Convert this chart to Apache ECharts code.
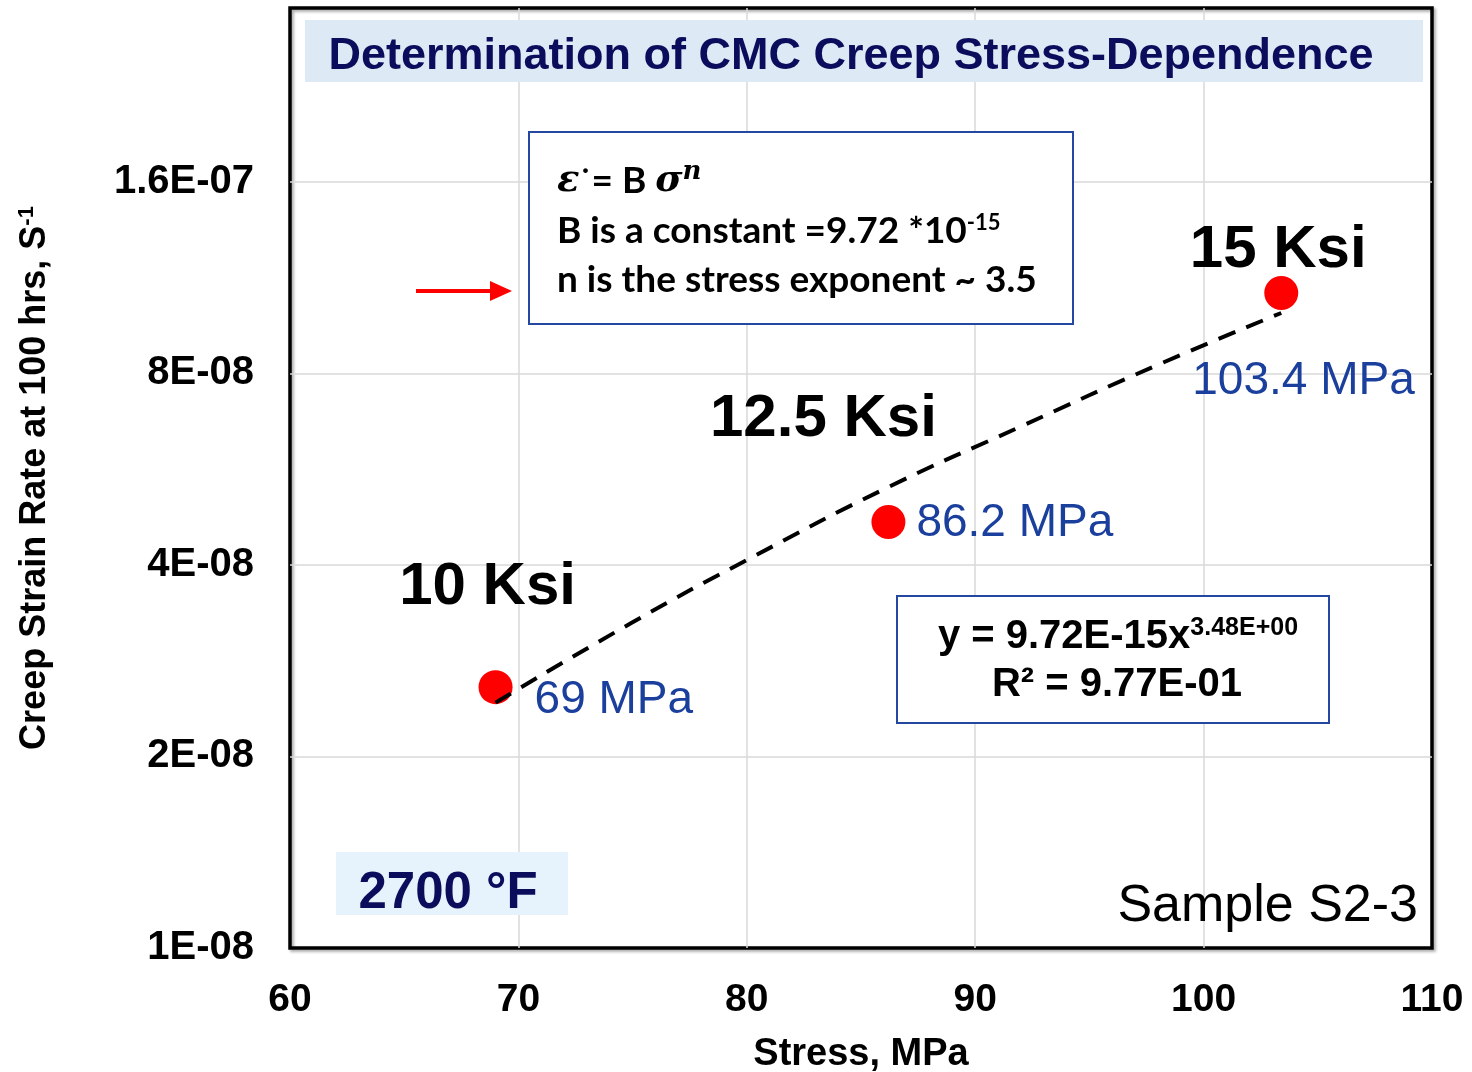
<!DOCTYPE html>
<html>
<head>
<meta charset="utf-8">
<script src="https://cdn.jsdelivr.net/npm/echarts@6/dist/echarts.min.js"></script>
<style>
html,body{margin:0;padding:0;background:#fff;}
#c{width:1472px;height:1072px;}
</style>
</head>
<body>
<div id="c"></div>
<script>
// ---- data ----
const stress = [69, 86.2, 103.4];                 // MPa
const strainRate = [2.57e-8, 4.67e-8, 1.07e-7];   // 1/s
const stressLabels = ['69 MPa', '86.2 MPa', '103.4 MPa'];
const ksiLabels = ['10 Ksi', '12.5 Ksi', '15 Ksi'];
const fitStress = [69, 75, 80, 86.2, 92, 98, 103.4];
const fitRate = [2.43e-8, 3.25e-8, 4.07e-8, 5.3e-8, 6.6e-8, 8.25e-8, 9.95e-8];
const xTicks = [60, 70, 80, 90, 100, 110];
const yTickLabels = ['1E-08', '2E-08', '4E-08', '8E-08', '1.6E-07'];
const yBase = 1e-8;
const yTop = 3.0e-7;

// log2 axis (ticks at doublings starting from 1E-08)
const ty = v => Math.log2(v / yBase);

// label layout (pixel offsets relative to the marker)
const mpaLabelLayout = [
  {position: 'right', distance: 22, offset: [0, 13]},
  {position: 'right', distance: 11, offset: [0, 1]},
  {position: 'right', distance: 0, offset: [-106, 88]}
];
const ksiLabelLayout = [[-8, -100], [-65, -103], [-3, -42]];

const chart = echarts.init(document.getElementById('c'), null, {renderer: 'canvas'});
const navy = '#0c0c5c';
const blue = '#1a3f9c';
const boxBlue = '#2447a0';
const gridLine = {show: true, showMinLine: false, showMaxLine: false, lineStyle: {color: '#d9d9d9', width: 1.5}};

const option = {
  animation: false,
  backgroundColor: '#fff',
  grid: {left: 290, right: 40, top: 8, bottom: 124, outerBoundsMode: 'none', containLabel: false,
    show: true, borderColor: '#000', borderWidth: 3.5, backgroundColor: 'transparent',
    shadowColor: 'rgba(0,0,0,0.35)', shadowBlur: 3, shadowOffsetX: 2, shadowOffsetY: 2},
  xAxis: {
    type: 'value', min: xTicks[0], max: xTicks[xTicks.length - 1], interval: 10,
    axisLine: {show: false}, axisTick: {show: false},
    axisLabel: {color: '#000', fontSize: 39, fontWeight: 'bold', fontFamily: 'Liberation Sans, Arial', margin: 33},
    splitLine: gridLine,
    name: 'Stress, MPa', nameLocation: 'middle', nameGap: 88,
    nameTextStyle: {color: '#000', fontSize: 38, fontWeight: 'bold', fontFamily: 'Liberation Sans, Arial'}
  },
  yAxis: {
    type: 'value', min: 0, max: ty(yTop), interval: 1,
    axisLine: {show: false}, axisTick: {show: false},
    axisLabel: {
      color: '#000', fontSize: 40, fontWeight: 'bold', fontFamily: 'Liberation Sans, Arial', margin: 36,
      formatter: v => { const i = Math.round(v); return Math.abs(v - i) < 1e-6 && yTickLabels[i] ? yTickLabels[i] : ''; }
    },
    splitLine: gridLine,
    name: '{t|Creep Strain Rate at 100 hrs, S}{s|-1}', nameLocation: 'middle', nameGap: 236,
    nameTextStyle: {
      color: '#000', fontSize: 36, fontWeight: 'bold', fontFamily: 'Liberation Sans, Arial',
      rich: {
        t: {fontSize: 36, fontWeight: 'bold', fontFamily: 'Liberation Sans, Arial', color: '#000'},
        s: {fontSize: 22, fontWeight: 'bold', fontFamily: 'Liberation Sans, Arial', color: '#000', verticalAlign: 'top', padding: [0, 0, 16, 0]}
      }
    }
  },
  series: [
    {
      type: 'scatter', z: 3,
      symbol: 'circle', symbolSize: 34,
      itemStyle: {color: '#ff0000', opacity: 1},
      data: stress.map((x, i) => ({
        value: [x, ty(strainRate[i])],
        label: {
          show: true, formatter: stressLabels[i],
          position: mpaLabelLayout[i].position, distance: mpaLabelLayout[i].distance, offset: mpaLabelLayout[i].offset,
          color: blue, opacity: 1, fontSize: 46, fontFamily: 'Liberation Sans, Arial'
        }
      }))
    },
    {
      type: 'scatter', z: 4, silent: true,
      symbol: 'circle', symbolSize: 1,
      itemStyle: {color: 'rgba(0,0,0,0)', opacity: 1},
      data: stress.map((x, i) => ({
        value: [x, ty(strainRate[i])],
        label: {
          show: true, formatter: ksiLabels[i], position: 'inside', offset: ksiLabelLayout[i],
          color: '#000', opacity: 1, fontSize: 60, fontWeight: 'bold', fontFamily: 'Liberation Sans, Arial'
        }
      }))
    },
    {
      type: 'line', z: 5, smooth: true, symbol: 'none',
      lineStyle: {color: '#000', width: 4, type: [18, 12], opacity: 1},
      data: fitStress.map((x, i) => [x, ty(fitRate[i])])
    }
  ],
  graphic: [
    // title box
    {type: 'rect', left: 305, top: 20, shape: {width: 1118, height: 62}, style: {fill: '#dde9f5'}, z: 1},
    {type: 'text', x: 851, y: 57, z: 2, style: {text: 'Determination of CMC Creep Stress-Dependence', fill: navy,
      font: 'bold 45px "Liberation Sans", Arial', align: 'center', verticalAlign: 'middle'}},
    // equation box
    {type: 'rect', left: 528, top: 131, shape: {width: 544, height: 192}, style: {fill: '#fff', stroke: boxBlue, lineWidth: 2}, z: 10},
    {type: 'text', x: 557, y: 181, z: 11, style: {
      text: '{i|ε}{d|˙}{b|= B }{i|σ}{n|n}', align: 'left', verticalAlign: 'middle',
      rich: {
        i: {font: 'italic bold 37px "DejaVu Serif", serif', fill: '#000'},
        d: {font: 'bold 30px Lato, sans-serif', fill: '#000'},
        b: {font: 'bold 37px Lato, sans-serif', fill: '#000'},
        n: {font: 'italic bold 26px "DejaVu Serif", serif', fill: '#000', verticalAlign: 'top', padding: [0, 0, 18, 0]}
      }}},
    {type: 'text', x: 557, y: 231, z: 11, style: {
      text: '{b|B is a constant =9.72 *10}{s|-15}', align: 'left', verticalAlign: 'middle',
      rich: {
        b: {font: 'bold 37px Lato, sans-serif', fill: '#000'},
        s: {font: 'bold 22px Lato, sans-serif', fill: '#000', verticalAlign: 'top', padding: [0, 0, 16, 0]}
      }}},
    {type: 'text', x: 557, y: 280, z: 11, style: {
      text: 'n is the stress exponent ~ 3.5', align: 'left', verticalAlign: 'middle',
      font: 'bold 37px Lato, sans-serif', fill: '#000'}},
    // red arrow
    {type: 'line', z: 11, shape: {x1: 416, y1: 291, x2: 496, y2: 291}, style: {stroke: '#ff0000', lineWidth: 4}},
    {type: 'polygon', z: 11, shape: {points: [[512, 291], [490, 281], [490, 301]]}, style: {fill: '#ff0000'}},
    // fit equation box
    {type: 'rect', left: 896, top: 595, shape: {width: 432, height: 127}, style: {fill: '#fff', stroke: boxBlue, lineWidth: 2}, z: 10},
    {type: 'text', x: 1118, y: 637, z: 11, style: {
      text: '{b|y = 9.72E-15x}{s|3.48E+00}', align: 'center', verticalAlign: 'middle',
      rich: {
        b: {font: 'bold 40px "Liberation Sans", Arial', fill: '#000'},
        s: {font: 'bold 25px "Liberation Sans", Arial', fill: '#000', verticalAlign: 'top', padding: [0, 0, 18, 0]}
      }}},
    {type: 'text', x: 1117, y: 685, z: 11, style: {
      text: 'R² = 9.77E-01', align: 'center', verticalAlign: 'middle',
      font: 'bold 40px "Liberation Sans", Arial', fill: '#000'}},
    // temperature box
    {type: 'rect', left: 336, top: 852, shape: {width: 232, height: 63}, style: {fill: '#e6f2fc'}, z: 10},
    {type: 'text', x: 448, y: 894, z: 11, style: {text: '2700 °F', align: 'center', verticalAlign: 'middle',
      font: 'bold 51px "Liberation Sans", Arial', fill: navy}},
    // sample id
    {type: 'text', x: 1418, y: 907, z: 11, style: {text: 'Sample S2-3', align: 'right', verticalAlign: 'middle',
      font: '52px "Liberation Sans", Arial', fill: '#000'}}
  ]
};
chart.setOption(option);
</script>
</body>
</html>
